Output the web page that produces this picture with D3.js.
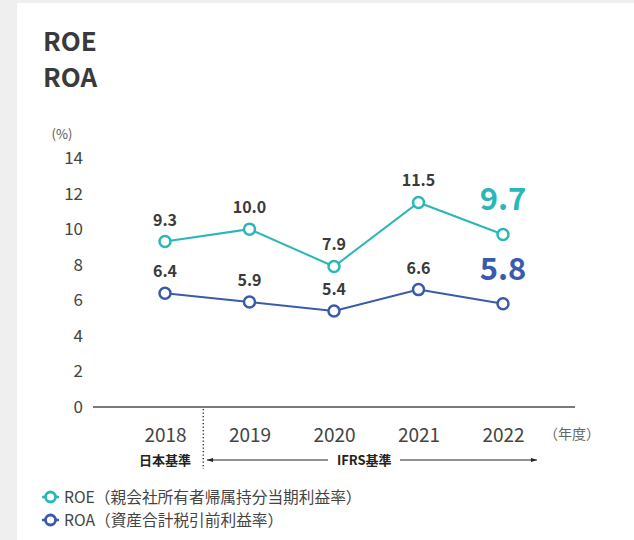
<!DOCTYPE html>
<html>
<head>
<meta charset="utf-8">
<script src="https://cdn.jsdelivr.net/npm/d3@7"></script>
<style>
  body { margin: 0; background: #efefef; }
  svg { display: block; }
  text { font-family: "Noto Sans CJK JP", "Noto Sans", sans-serif; }
</style>
</head>
<body>
<svg id="chart" width="634" height="540"></svg>
<script>
const years = ['2018', '2019', '2020', '2021', '2022'];
const roeValues = [9.3, 10.0, 7.9, 11.5, 9.7];
const roaValues = [6.4, 5.9, 5.4, 6.6, 5.8];
const yTicks = [0, 2, 4, 6, 8, 10, 12, 14];
const legendLabels = ['ROE（親会社所有者帰属持分当期利益率）', 'ROA（資産合計税引前利益率）'];

const teal = '#2bb7b8';
const blue = '#3a5bab';
const dark = '#3a3a3a';

const svg = d3.select('#chart');

// white panel
svg.append('rect').attr('x', 0).attr('y', 0).attr('width', 634).attr('height', 540).attr('fill', '#efefef');
svg.append('rect').attr('x', 17).attr('y', 3).attr('width', 617).attr('height', 537).attr('fill', '#fff');

// titles
svg.append('text').attr('x', 43).attr('y', 51).attr('font-size', 26).attr('font-weight', 'bold').attr('fill', dark).text('ROE');
svg.append('text').attr('x', 43).attr('y', 87).attr('font-size', 26).attr('font-weight', 'bold').attr('fill', dark).text('ROA');

const x = d3.scalePoint().domain(years).range([165, 503]);
const y = d3.scaleLinear().domain([0, 14]).range([407, 158]);

// unit
svg.append('text').attr('x', 62).attr('y', 139).attr('font-size', 13).attr('text-anchor', 'middle').attr('fill', '#555').text('(%)');

// y axis labels
const yAxis = d3.axisLeft(y).tickValues(yTicks).tickSize(0).tickPadding(0).tickFormat(d3.format('d'));
const yg = svg.append('g').attr('transform', 'translate(83,0)').call(yAxis);
yg.select('.domain').remove();
yg.selectAll('text').attr('font-size', 17).attr('fill', '#444').attr('font-family', '"Noto Sans CJK JP", sans-serif');

// baseline
svg.append('line').attr('x1', 93).attr('x2', 575).attr('y1', y(0)).attr('y2', y(0))
  .attr('stroke', '#7a7a7a').attr('stroke-width', 2);

// x axis labels
const xAxis = d3.axisBottom(x).tickSize(0).tickPadding(0);
const xg = svg.append('g').attr('transform', 'translate(0,442)').call(xAxis);
xg.select('.domain').remove();
xg.selectAll('text').attr('font-size', 19).attr('fill', '#444').attr('dy', 0).attr('font-family', '"Noto Sans CJK JP", sans-serif');
svg.append('text').attr('x', 572).attr('y', 439).attr('font-size', 14).attr('text-anchor', 'middle').attr('fill', '#666').text('（年度）');

// accounting standard divider
const divX = (x('2018') + x('2019')) / 2 - 4;
svg.append('line').attr('x1', divX).attr('x2', divX).attr('y1', 409).attr('y2', 469)
  .attr('stroke', '#222').attr('stroke-width', 1.3).attr('stroke-dasharray', '1.3,2.2');
svg.append('text').attr('x', x('2018')).attr('y', 465).attr('font-size', 13).attr('font-weight', 'bold')
  .attr('text-anchor', 'middle').attr('fill', '#222').text('日本基準');
const ifrsX = (x('2020') + x('2021')) / 2 - 12;
svg.append('text').attr('x', ifrsX).attr('y', 465).attr('font-size', 13).attr('font-weight', 'bold')
  .attr('text-anchor', 'middle').attr('fill', '#222').text('IFRS基準');

const defs = svg.append('defs');
defs.append('marker').attr('id', 'arr').attr('viewBox', '0 0 10 10').attr('refX', 10).attr('refY', 5)
  .attr('markerWidth', 6).attr('markerHeight', 6).attr('orient', 'auto-start-reverse')
  .append('path').attr('d', 'M0,1.5 L10,5 L0,8.5 Z').attr('fill', '#222');
svg.append('line').attr('x1', 207).attr('x2', 328).attr('y1', 460).attr('y2', 460)
  .attr('stroke', '#222').attr('stroke-width', 1).attr('marker-start', 'url(#arr)');
svg.append('line').attr('x1', 400).attr('x2', 537).attr('y1', 460).attr('y2', 460)
  .attr('stroke', '#222').attr('stroke-width', 1).attr('marker-end', 'url(#arr)');

// series
const series = [
  { values: roeValues, color: teal },
  { values: roaValues, color: blue }
];
const line = d3.line().x((d, i) => x(years[i])).y(d => y(d));

series.forEach(s => {
  svg.append('path').datum(s.values).attr('d', line).attr('fill', 'none')
    .attr('stroke', s.color).attr('stroke-width', 2);
  svg.selectAll(null).data(s.values).enter().append('circle')
    .attr('cx', (d, i) => x(years[i])).attr('cy', d => y(d)).attr('r', 5.5)
    .attr('fill', '#fff').attr('stroke', s.color).attr('stroke-width', 2.5);
  const last = s.values.length - 1;
  svg.selectAll(null).data(s.values).enter().append('text')
    .attr('x', (d, i) => x(years[i]))
    .attr('y', (d, i) => i === last ? y(d) - 24 : y(d) - 16)
    .attr('text-anchor', 'middle')
    .attr('font-size', (d, i) => i === last ? 31 : 16)
    .attr('font-weight', 'bold')
    .attr('fill', (d, i) => i === last ? s.color : dark)
    .text(d => d.toFixed(1));
});

// legend
legendLabels.forEach((label, i) => {
  const ly = 497 + i * 23;
  const c = series[i].color;
  svg.append('line').attr('x1', 42).attr('x2', 59).attr('y1', ly).attr('y2', ly).attr('stroke', c).attr('stroke-width', 2.5);
  svg.append('circle').attr('cx', 50.5).attr('cy', ly).attr('r', 5).attr('fill', '#fff').attr('stroke', c).attr('stroke-width', 2.8);
  svg.append('text').attr('x', 64).attr('y', ly + 5.5).attr('font-size', 15.7).attr('fill', '#444').text(label);
});
</script>
</body>
</html>
